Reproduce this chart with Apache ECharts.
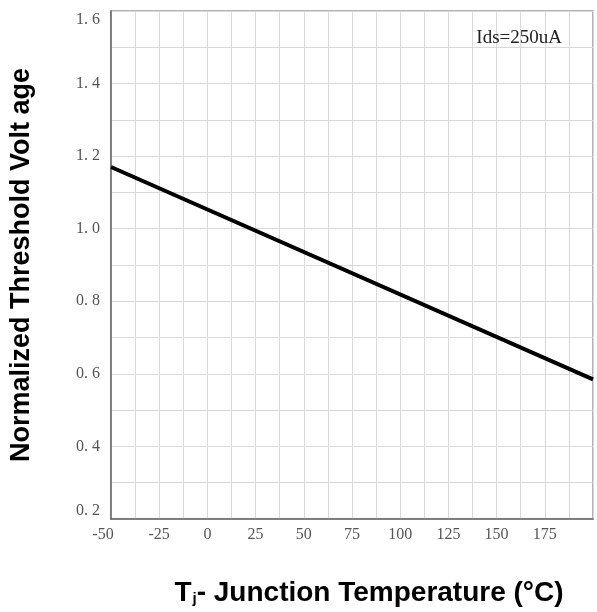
<!DOCTYPE html>
<html>
<head>
<meta charset="utf-8">
<script src="https://cdn.jsdelivr.net/npm/echarts@6/dist/echarts.min.js"></script>
<style>
  html, body { margin: 0; padding: 0; background: #fff; }
  #chart { width: 597px; height: 612px; }
</style>
</head>
<body>
<div id="chart"></div>
<script>
// junction temperature (°C) and normalized Vth
const temps = [-50, 200];
const vthNorm = [1.17, 0.585];
const xLabels = [-50, -25, 0, 25, 50, 75, 100, 125, 150, 175];
const yLabels = [0.2, 0.4, 0.6, 0.8, 1.0, 1.2, 1.4, 1.6];
const condition = "Ids=250uA";

const TICK_FONT = "'Liberation Serif', 'DejaVu Serif', serif";
const TITLE_FONT = "'Liberation Sans', Arial, sans-serif";

const chart = echarts.init(document.getElementById("chart"));

const near = (a, b) => Math.abs(a - b) < 1e-6;
const hasLabel = (list, v) => list.some((l) => near(l, v));

const tickStyle = { fontFamily: TICK_FONT, fontSize: 16, color: "#555" };

chart.setOption({
  animation: false,
  title: {
    text: condition,
    right: 30,
    top: 24,
    textStyle: { fontFamily: TICK_FONT, fontSize: 19, fontWeight: "normal", color: "#222" },
  },
  grid: {
    left: 110, top: 11, right: 4, bottom: 92,
    show: true, borderColor: "#999", borderWidth: 1.5,
  },
  xAxis: {
    type: "value",
    min: -50,
    max: 200,
    interval: 12.5,
    name: "{b|T}{s|j}{b|- Junction Temperature (°C)}",
    nameLocation: "middle",
    nameGap: 60,
    nameTextStyle: {
      padding: [0, 0, 0, 34],
      rich: {
        b: { fontFamily: TITLE_FONT, fontSize: 28, fontWeight: "bold", color: "#000" },
        s: { fontFamily: TITLE_FONT, fontSize: 15, fontWeight: "bold", color: "#000", padding: [12, 0, 0, 1] },
      },
    },
    axisLine: { show: true, onZero: false, lineStyle: { color: "#666", width: 1.5 } },
    axisTick: { show: false },
    axisLabel: {
      margin: 8,
      ...tickStyle,
      formatter: (v) => {
        if (!hasLabel(xLabels, v)) return "";
        return near(v, xLabels[0]) ? `{first|${v}}` : `{n|${v}}`;
      },
      rich: {
        n: { ...tickStyle },
        first: { ...tickStyle, padding: [0, 16, 0, 0] },
      },
    },
    splitLine: { show: true, lineStyle: { color: "#d9d9d9", width: 1 } },
  },
  yAxis: {
    type: "value",
    min: 0.2,
    max: 1.6,
    interval: 0.1,
    name: "Normalized Threshold Volt age",
    nameLocation: "middle",
    nameGap: 76,
    nameTextStyle: { fontFamily: TITLE_FONT, fontSize: 27, fontWeight: "bold", color: "#000" },
    axisLine: { show: true, onZero: false, lineStyle: { color: "#666", width: 1.5 } },
    axisTick: { show: false },
    axisLabel: {
      margin: 11,
      ...tickStyle,
      formatter: (v) => {
        if (!hasLabel(yLabels, v)) return "";
        const s = v.toFixed(1).replace(".", ". ");
        if (near(v, yLabels[yLabels.length - 1])) return `{top|${s}}`;
        if (near(v, yLabels[0])) return `{bot|${s}}`;
        return `{n|${s}}`;
      },
      rich: {
        n: { ...tickStyle },
        top: { ...tickStyle, padding: [18, 0, 0, 0] },
        bot: { ...tickStyle, padding: [0, 0, 16, 0] },
      },
    },
    splitLine: { show: true, lineStyle: { color: "#d9d9d9", width: 1 } },
  },
  series: [
    {
      type: "line",
      data: temps.map((t, i) => [t, vthNorm[i]]),
      showSymbol: false,
      lineStyle: { color: "#000", width: 4 },
    },
  ],
});
</script>
</body>
</html>
